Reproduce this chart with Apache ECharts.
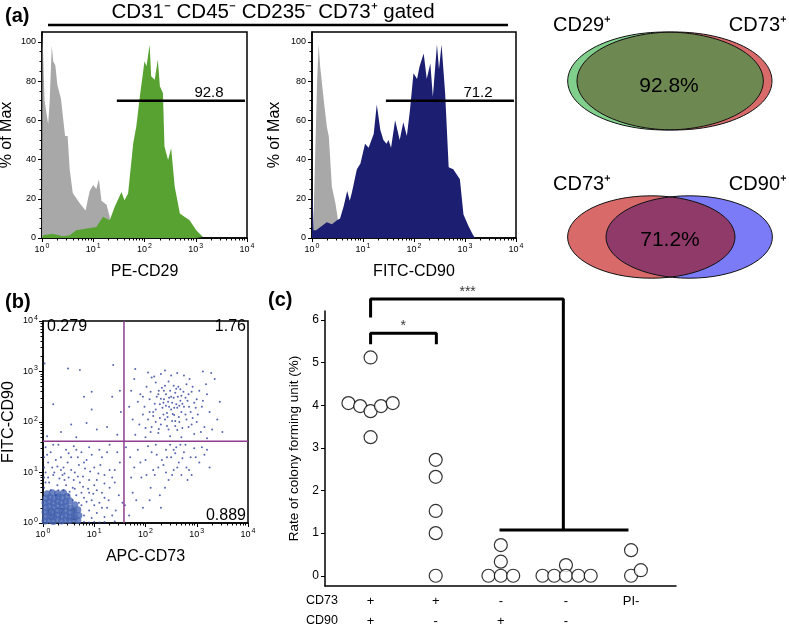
<!DOCTYPE html>
<html><head><meta charset="utf-8">
<script src="https://cdn.jsdelivr.net/npm/echarts@6/dist/echarts.min.js"></script>
<style>html,body{margin:0;padding:0;background:#fff}#c{width:789px;height:627px}</style>
</head><body><div id="c"></div><script>
// ---------------- DATA ----------------
const decadeLabels = [0,1,2,3,4];            // 10^0 .. 10^4
const histYTicks = [0,20,40,60,80,100];
// (a) histogram 1 : x in log10 decades, y in % of max
const cd29Control = [[0,0],[0.01,104],[0.05,70],[0.12,58],[0.15,70],[0.19,98],[0.22,90],[0.26,88],[0.3,78],[0.37,71],[0.45,52],[0.5,52],[0.54,35],[0.6,23],[0.73,18],[0.85,14],[0.93,24],[1.0,27],[1.06,25],[1.11,30],[1.16,19],[1.26,17],[1.32,11],[1.35,0]];
const cd29Stained = [[0,0],[0.02,1.4],[0.21,2.2],[0.41,0.9],[0.54,1.4],[0.67,3.9],[0.87,4.8],[1.06,5.6],[1.19,10.8],[1.32,9],[1.42,15.9],[1.55,23.5],[1.61,19.3],[1.68,22.7],[1.78,48.3],[1.84,56.8],[1.91,72.2],[2.0,90.1],[2.04,87.5],[2.1,98.6],[2.13,82.4],[2.2,80.7],[2.26,91],[2.3,77.3],[2.36,73.9],[2.39,46.6],[2.46,39.8],[2.52,45.7],[2.59,26.1],[2.69,12.5],[2.78,10.8],[2.88,9],[3.01,3.9],[3.14,0.5],[3.17,0]];
const cd29Gate = [[1.46,70],[3.96,70]];
const cd29GateLabel = '92.8';
// (a) histogram 2
const cd90Control = [[0.02,0],[0.06,40],[0.1,80],[0.13,98.6],[0.16,87.5],[0.23,70.5],[0.29,56.8],[0.33,51.7],[0.39,26.1],[0.46,17.6],[0.5,10.8],[0.55,0]];
const cd90Stained = [[0,0],[0.01,26],[0.03,4],[0.08,4],[0.29,8],[0.39,7],[0.49,9],[0.55,10],[0.62,16],[0.69,24],[0.74,19],[0.78,23],[0.88,35],[0.95,38],[1.04,48],[1.11,46],[1.21,53],[1.27,68],[1.34,55],[1.4,50],[1.46,48],[1.5,50],[1.55,46],[1.63,60],[1.72,50],[1.79,59],[1.86,52],[1.92,65],[1.99,84],[2.06,81],[2.11,87.5],[2.19,94],[2.25,81],[2.32,89],[2.37,72],[2.45,98.6],[2.49,86],[2.54,98.6],[2.61,74],[2.68,36],[2.77,35],[2.9,30],[2.97,12],[3.07,6],[3.16,1.4],[3.2,0]];
const cd90Gate = [[1.45,70],[3.96,70]];
const cd90GateLabel = '71.2';
// (b) dot plot, log10 decades [APC-CD73, FITC-CD90]
const dotsSparse = [
[1.80,3.05],[2.05,2.98],[2.17,2.90],[2.30,2.95],[2.38,3.02],[2.62,2.97],[2.75,2.92],[3.12,3.00],[3.28,2.97],[3.35,2.85],
[1.72,2.62],[1.90,2.55],[2.02,2.70],[2.20,2.78],[2.32,2.68],[2.45,2.80],[2.55,2.72],[2.68,2.65],[2.80,2.75],[2.92,2.70],[3.05,2.62],[3.20,2.55],
[1.85,2.40],[1.98,2.30],[2.08,2.45],[2.15,2.20],[2.22,2.50],[2.28,2.35],[2.35,2.15],[2.40,2.55],[2.44,2.40],[2.50,2.25],[2.55,2.48],[2.60,2.35],[2.65,2.10],[2.70,2.52],[2.75,2.30],[2.82,2.42],[2.88,2.20],[2.95,2.38],[3.02,2.15],[3.10,2.30],[3.25,2.20],[3.40,2.05],
[1.75,2.05],[1.88,1.95],[1.95,2.15],[2.05,2.05],[2.12,1.90],[2.20,2.00],[2.30,1.95],[2.38,2.05],[2.45,1.85],[2.52,2.02],[2.58,1.92],[2.66,2.00],[2.72,1.88],[2.80,2.05],[2.90,1.95],[3.00,2.00],[3.15,1.90],[3.30,1.85],
[1.80,1.75],[2.00,1.70],[2.25,1.78],[2.48,1.72],[2.70,1.70],[2.95,1.76],[3.20,1.68],
[2.33,2.28],[2.42,2.18],[2.48,2.62],[2.58,2.58],[2.62,2.28],[2.36,2.45],[2.52,2.38],[2.68,2.42],[2.26,2.62],[2.74,2.60],[2.84,2.55],[2.56,2.14],[2.18,2.36],[2.40,2.32],[2.60,2.66],
[2.10,2.60],[2.25,2.55],[2.38,2.72],[2.50,2.50],[2.63,2.50],[2.78,2.48],[2.90,2.60],[3.00,2.45],[2.15,2.12],[2.28,2.08],[2.43,2.10],[2.58,2.02],[2.70,2.20],[2.85,2.30],[2.98,2.28],[3.12,2.42],
[2.08,2.20],[2.20,2.25],[2.35,2.38],[2.46,2.30],[2.53,2.16],[2.66,2.32],[2.78,2.15],[2.92,2.08],[2.26,1.86],[2.42,1.92],[2.62,1.84],[2.84,1.90],[3.08,1.80],[2.10,1.80],[1.95,2.50],[2.12,2.88],
[2.50,2.92],[2.86,2.85],[3.18,2.75],[3.45,2.40],[3.50,1.80],[1.68,2.30],[1.78,2.85],[2.00,1.88],[2.36,2.62],[2.64,2.70],[2.72,2.36],[2.46,2.48],[2.30,2.46],[2.56,2.28],
[1.62,1.50],[1.70,1.30],[1.78,1.10],[1.85,1.45],[1.92,0.90],[2.00,1.25],[2.05,1.52],[2.10,0.70],[2.15,1.05],[2.22,1.35],[2.28,0.55],[2.35,1.15],[2.40,1.45],[2.45,0.85],[2.50,1.30],[2.55,1.05],[2.60,1.50],[2.65,1.20],[2.70,0.95],[2.75,1.40],[2.80,1.10],[2.88,1.30],[2.95,1.48],[3.05,1.20],[3.15,1.35],[3.25,1.10],[1.60,0.35],[1.75,0.60],[1.95,0.30],[2.30,0.30],[2.48,1.55],[2.58,1.38],[2.68,1.55],[2.32,1.25],[2.18,0.95],[1.68,0.15],[2.82,0.85],
[1.90,1.20],[2.02,0.95],[2.12,1.40],[2.25,1.10],[2.38,0.70],[2.42,1.30],[2.52,0.95],[2.62,1.10],[2.72,1.28],[2.85,1.05],[2.98,1.30],[3.10,1.50],[2.20,1.55],[2.55,1.45],[2.78,1.55],[1.72,0.90],[1.82,0.45],[2.08,0.45],[2.40,1.00],[2.90,0.95],[3.20,1.45],
[0.03,3.16],[0.49,3.06],[0.72,3.03],[1.37,3.13],[0.95,2.60],[1.50,2.62],[0.20,2.35],[0.80,2.50],[1.35,2.50],[0.35,1.80],[0.55,1.95],[0.85,1.98],[1.05,1.85],[1.25,1.90],[0.08,1.72],[1.45,1.75],[0.65,1.70],[1.52,2.20],[0.95,2.25],
[0.05,1.50],[0.15,1.40],[0.30,1.55],[0.45,1.45],[0.60,1.52],[0.75,1.40],[0.90,1.50],[1.10,1.45],[1.30,1.55],[1.45,1.40],
[0.10,1.20],[0.25,1.25],[0.40,1.10],[0.55,1.30],[0.70,1.15],[0.85,1.25],[1.00,1.10],[1.15,1.30],[1.30,1.05],[1.50,1.20],
[0.05,1.00],[0.20,0.95],[0.35,1.05],[0.50,0.90],[0.62,1.00],[0.78,0.92],[0.92,1.02],[1.05,0.85],[1.20,0.95],[1.40,0.80],
[0.12,0.80],[0.28,0.75],[0.42,0.85],[0.58,0.70],[0.72,0.80],[0.88,0.68],[1.00,0.75],[1.15,0.60],[1.30,0.70],[1.48,0.55],
[0.65,0.55],[0.80,0.50],[0.95,0.45],[1.10,0.40],[1.25,0.30],[0.90,0.25],[1.05,0.20],[1.35,0.15],[0.75,0.35],[1.55,0.40],
[0.18,1.10],[0.48,1.20],[0.68,1.30],[0.38,0.95],[0.82,1.08],[0.52,0.62],[0.30,0.65],[0.98,0.58],[1.20,0.50],[0.60,0.85],
[0.10,0.90],[0.22,1.00],[0.32,0.88],[0.45,0.75],[0.55,1.05],[0.68,0.92],[0.78,0.72],[0.90,0.85],[1.08,0.98],[1.20,0.78],[1.35,0.90],[0.25,0.55],[0.40,0.65],[0.50,0.55],[0.62,0.68],[0.75,0.60],[0.85,0.42],[1.00,0.35],[1.15,0.30],[1.28,0.45],[1.42,0.25],[0.80,0.15],[0.95,0.10],[1.20,0.12],
[0.08,1.35],[0.20,1.55],[0.35,1.30],[0.50,1.38],[0.65,1.45],[0.80,1.20],[0.95,1.35],[1.12,1.15],[1.25,1.40],[1.40,1.05],[0.15,0.65],[0.05,0.80],[0.58,0.45],[0.70,0.40],[0.90,0.60],[1.05,0.65],[0.42,0.98],[0.28,1.12],
[0.02,0.70],[0.02,0.90],[0.02,1.10],[0.02,1.30],
[0.80,0.02],[1.00,0.02],[1.20,0.02],[1.40,0.03],[1.10,0.01],[0.90,0.01]
];
const dotsCore = [
[0.04,0.04],[0.12,0.06],[0.20,0.03],[0.28,0.07],[0.36,0.04],[0.44,0.06],[0.52,0.05],[0.60,0.08],[0.68,0.05],
[0.05,0.13],[0.13,0.15],[0.21,0.12],[0.29,0.16],[0.37,0.13],[0.45,0.15],[0.53,0.12],[0.61,0.16],[0.70,0.15],
[0.04,0.22],[0.12,0.24],[0.20,0.21],[0.28,0.25],[0.36,0.22],[0.44,0.24],[0.52,0.21],[0.60,0.25],[0.68,0.26],
[0.05,0.31],[0.13,0.33],[0.21,0.30],[0.29,0.34],[0.37,0.31],[0.45,0.33],[0.53,0.30],[0.62,0.36],
[0.04,0.40],[0.12,0.42],[0.20,0.39],[0.28,0.43],[0.36,0.40],[0.44,0.42],[0.52,0.44],
[0.06,0.49],[0.14,0.51],[0.22,0.48],[0.30,0.52],[0.38,0.50],[0.47,0.53],
[0.08,0.58],[0.18,0.60],[0.28,0.58],[0.40,0.60]
];
const quadrantGate = [1.58, 1.62];
const quadrantLabels = ['0.279','1.76','97.1','0.889'];
// (c) colony forming unit rates (%)
const groupsCD73 = ['+','+','-','-','PI-'];
const groupsCD90 = ['+','-','+','-',''];
const cfuPosPos = [4.05,3.98,3.86,3.98,4.05,5.12,3.25];
const cfuPosNeg = [2.72,2.32,1.52,1.0,0];
const cfuNegPos = [0.72,0.33,0,0,0];
const cfuNegNeg = [0.25,0,0,0,0,0];
const cfuPI = [0.6,0,0.13];
const cfuYTicks = [0,1,2,3,4,5,6];
// ---------------- LAYOUT (jitter / annotation placement) ----------------
const jitter = [
  [-0.34,-0.16,0,0.16,0.34,0,0],
  [0,0,0,0,0],
  [0,0,-0.19,0,0.19],
  [0,-0.36,-0.18,0,0.19,0.38],
  [0,0,0.15]
];
const bracketAll = [[1,6.06],[1,6.49],[3.96,6.49],[3.96,1.075]];
const bracketAllBase = [[2.98,1.075],[4.96,1.075]];
const bracketOne = [[1,5.43],[1,5.69],[2.01,5.69],[2.01,5.43]];

const FONT = '"Liberation Sans", Arial, Helvetica, sans-serif';
const minorLogTicks = [];
for (let d = 0; d < 4; d++) for (let m = 2; m <= 9; m++) minorLogTicks.push(d + Math.log10(m));
const histMinorTicks = [];
for (let v = 5; v < 105; v += 5) if (v % 20) histMinorTicks.push(v);
const rich = { a: { fontSize: 9, color: '#000', fontFamily: FONT }, s: { fontSize: 7, color: '#000', fontFamily: FONT, padding: [0, 0, 6, 1] } };
const logLabel = v => '{a|10}{s|' + v + '}';

function logXAxis(gi, name, gap) {
  return { type: 'value', gridIndex: gi, position: 'bottom', min: 0, max: 4, interval: 1,
    name, nameLocation: 'middle', nameGap: gap, nameTextStyle: { fontSize: 16, color: '#000', fontFamily: FONT },
    axisLine: { show: true, onZero: false, lineStyle: { color: '#000', width: 1.5 } },
    axisTick: { show: true, length: 4, lineStyle: { color: '#000', width: 1 } },
    axisLabel: { formatter: logLabel, rich, margin: 5 }, splitLine: { show: false } };
}
function minorXAxis(gi) {
  return { type: 'value', gridIndex: gi, position: 'bottom', min: 0, max: 4,
    axisLine: { show: false }, axisLabel: { show: false }, splitLine: { show: false },
    axisTick: { show: true, length: 2.5, customValues: minorLogTicks, lineStyle: { color: '#000', width: 1 } } };
}
function minorYAxis(gi, max, ticks) {
  return { type: 'value', gridIndex: gi, position: 'left', min: 0, max,
    axisLine: { show: false }, axisLabel: { show: false }, splitLine: { show: false },
    axisTick: { show: true, length: 2.5, customValues: ticks, lineStyle: { color: '#000', width: 1 } } };
}
function histYAxis(gi, gap) {
  return { type: 'value', gridIndex: gi, position: 'left', min: 0, max: 105,
    name: '% of Max', nameLocation: 'middle', nameGap: gap, nameTextStyle: { fontSize: 16, color: '#000', fontFamily: FONT },
    axisLine: { show: true, lineStyle: { color: '#000', width: 1.5 } },
    axisTick: { show: true, length: 4, customValues: histYTicks, lineStyle: { color: '#000' } },
    axisLabel: { customValues: histYTicks, fontSize: 9, color: '#000', margin: 6, fontFamily: FONT }, splitLine: { show: false } };
}

// Venn helpers
function lens(a, b, n) {
  const pts = [];
  const inside = (e, x, y) => ((x - e.cx) / e.rx) ** 2 + ((y - e.cy) / e.ry) ** 2 <= 1;
  for (let i = 0; i < n; i++) {
    const t = 2 * Math.PI * i / n;
    let x = a.cx + a.rx * Math.cos(t), y = a.cy + a.ry * Math.sin(t);
    if (inside(b, x, y)) pts.push([x, y]);
    x = b.cx + b.rx * Math.cos(t); y = b.cy + b.ry * Math.sin(t);
    if (inside(a, x, y)) pts.push([x, y]);
  }
  let mx = 0, my = 0; pts.forEach(p => { mx += p[0]; my += p[1]; }); mx /= pts.length; my /= pts.length;
  pts.sort((p, q) => Math.atan2(p[1] - my, p[0] - mx) - Math.atan2(q[1] - my, q[0] - mx));
  return pts;
}
const vTopA = { cx: 665.5, cy: 81, rx: 97.8, ry: 49 };
const vTopB = { cx: 674.5, cy: 81, rx: 97.5, ry: 49 };
const vBotA = { cx: 651.3, cy: 237, rx: 83.7, ry: 41.2 };
const vBotB = { cx: 689.2, cy: 237, rx: 83.2, ry: 41.2 };
function venn(a, b, ca, cb, cab) {
  return [
    { type: 'ellipse', shape: a, style: { fill: ca, stroke: null } },
    { type: 'ellipse', shape: b, style: { fill: cb, stroke: null } },
    { type: 'polygon', shape: { points: lens(a, b, 720) }, style: { fill: cab, stroke: null } },
    { type: 'ellipse', shape: a, style: { fill: null, stroke: '#111', lineWidth: 1 } },
    { type: 'ellipse', shape: b, style: { fill: null, stroke: '#111', lineWidth: 1 } }
  ];
}
function txt(x, y, text, size, align, weight) {
  return { type: 'text', x, y, style: { text, fontSize: size, fontWeight: weight || 'normal', fontFamily: FONT, fill: '#000', align: align || 'left', verticalAlign: 'middle' } };
}

const cfuGroups = [cfuPosPos, cfuPosNeg, cfuNegPos, cfuNegNeg, cfuPI];
const cfuPoints = [];
cfuGroups.forEach((vals, gi) => vals.forEach((v, k) => cfuPoints.push([gi + 1 + jitter[gi][k], v])));

const lineStyleBlack = { color: '#000', width: 3 };
const gridBase = { outerBoundsMode: 'none', containLabel: false };
const option = {
  animation: false,
  textStyle: { fontFamily: FONT },
  grid: [
    Object.assign({ left: 42, top: 32, width: 205, height: 206, show: true, borderColor: '#000', borderWidth: 1.5 }, gridBase),
    Object.assign({ left: 312, top: 32, width: 204, height: 206, show: true, borderColor: '#000', borderWidth: 1.5 }, gridBase),
    Object.assign({ left: 43, top: 321, width: 205, height: 202, show: true, borderColor: '#000', borderWidth: 1.5 }, gridBase),
    Object.assign({ left: 325, top: 311, width: 351, height: 275 }, gridBase)
  ],
  xAxis: [
    logXAxis(0, 'PE-CD29', 26), minorXAxis(0),
    logXAxis(1, 'FITC-CD90', 26), minorXAxis(1),
    logXAxis(2, 'APC-CD73', 26), minorXAxis(2),
    { type: 'value', gridIndex: 3, position: 'bottom', min: 0.3, max: 5.69,
      axisLine: { show: true, onZero: false, lineStyle: { color: '#000', width: 1.5 } },
      axisTick: { show: false }, splitLine: { show: false },
      axisLabel: { customValues: [1, 2, 3, 4, 5], fontSize: 13, lineHeight: 20, color: '#000', margin: 5,
        formatter: v => groupsCD73[v - 1] + '\n' + (groupsCD90[v - 1] || ' ') } }
  ],
  yAxis: [
    histYAxis(0, 27), histYAxis(1, 29),
    { type: 'value', gridIndex: 2, position: 'left', min: 0, max: 4, interval: 1,
      name: 'FITC-CD90', nameLocation: 'middle', nameGap: 26, nameTextStyle: { fontSize: 16, color: '#000', fontFamily: FONT },
      axisLine: { show: true, lineStyle: { color: '#000', width: 1.5 } },
      axisTick: { show: true, length: 4, lineStyle: { color: '#000' } },
      axisLabel: { formatter: logLabel, rich, margin: 5 }, splitLine: { show: false } },
    minorYAxis(2, 4, minorLogTicks),
    { type: 'value', gridIndex: 3, position: 'left', min: -0.24, max: 6.21,
      name: 'Rate of colony forming unit (%)', nameLocation: 'middle', nameGap: 24,
      nameTextStyle: { fontSize: 13.5, color: '#000', fontFamily: FONT },
      axisLine: { show: true, onZero: false, lineStyle: { color: '#000', width: 1.5 } },
      axisTick: { show: true, length: 4, customValues: cfuYTicks, lineStyle: { color: '#000' } },
      axisLabel: { customValues: cfuYTicks, fontSize: 12, color: '#000', margin: 6 }, splitLine: { show: false } },
    minorYAxis(0, 105, histMinorTicks),
    minorYAxis(1, 105, histMinorTicks)
  ],
  series: [
    { type: 'line', xAxisIndex: 0, yAxisIndex: 0, data: cd29Control, symbol: 'none', lineStyle: { width: 0 }, areaStyle: { color: '#a8a8a8', opacity: 1 } },
    { type: 'line', xAxisIndex: 0, yAxisIndex: 0, data: cd29Stained, symbol: 'none', lineStyle: { width: 0 }, areaStyle: { color: '#58a232', opacity: 1 } },
    { type: 'line', xAxisIndex: 0, yAxisIndex: 0, data: cd29Gate, symbol: 'none', lineStyle: { color: '#000', width: 2.5 } },
    { type: 'line', xAxisIndex: 2, yAxisIndex: 1, data: cd90Control, symbol: 'none', lineStyle: { width: 0 }, areaStyle: { color: '#a8a8a8', opacity: 1 } },
    { type: 'line', xAxisIndex: 2, yAxisIndex: 1, data: cd90Stained, symbol: 'none', lineStyle: { width: 0 }, areaStyle: { color: '#1c1e72', opacity: 1 } },
    { type: 'line', xAxisIndex: 2, yAxisIndex: 1, data: cd90Gate, symbol: 'none', lineStyle: { color: '#000', width: 2.5 } },
    { type: 'scatter', xAxisIndex: 4, yAxisIndex: 2, data: dotsCore, symbolSize: 7, itemStyle: { color: '#4867b3' } },
    { type: 'scatter', xAxisIndex: 4, yAxisIndex: 2, data: dotsSparse, symbolSize: 2, itemStyle: { color: '#2e3f9c' } },
    { type: 'line', xAxisIndex: 4, yAxisIndex: 2, data: [[quadrantGate[0], 0], [quadrantGate[0], 4]], symbol: 'none', lineStyle: { color: '#8e3d8e', width: 1.5 } },
    { type: 'line', xAxisIndex: 4, yAxisIndex: 2, data: [[0, quadrantGate[1]], [4, quadrantGate[1]]], symbol: 'none', lineStyle: { color: '#8e3d8e', width: 1.5 } },
    { type: 'line', xAxisIndex: 6, yAxisIndex: 4, data: bracketAll, symbol: 'none', clip: false, lineStyle: lineStyleBlack },
    { type: 'line', xAxisIndex: 6, yAxisIndex: 4, data: bracketAllBase, symbol: 'none', clip: false, lineStyle: lineStyleBlack },
    { type: 'line', xAxisIndex: 6, yAxisIndex: 4, data: bracketOne, symbol: 'none', clip: false, lineStyle: lineStyleBlack },
    { type: 'scatter', xAxisIndex: 6, yAxisIndex: 4, data: [[2.49, 6.49]], symbolSize: 0, clip: false,
      label: { show: true, formatter: '***', position: 'top', distance: 0, fontSize: 14, color: '#000' } },
    { type: 'scatter', xAxisIndex: 6, yAxisIndex: 4, data: [[1.5, 5.69]], symbolSize: 0, clip: false,
      label: { show: true, formatter: '*', position: 'top', distance: 0, fontSize: 14, color: '#000' } },
    { type: 'scatter', xAxisIndex: 6, yAxisIndex: 4, data: cfuPoints, symbol: 'circle', symbolSize: 13, clip: false,
      itemStyle: { color: '#fff', borderColor: '#000', borderWidth: 1.2 }, z: 5 }
  ],
  graphic: [
    txt(5, 16, '(a)', 20, 'left', 'bold'),
    txt(5, 302, '(b)', 20, 'left', 'bold'),
    txt(268, 300, '(c)', 20, 'left', 'bold'),
    txt(273, 12, 'CD31⁻ CD45⁻ CD235⁻ CD73⁺ gated', 20.5, 'center'),
    { type: 'line', shape: { x1: 48, y1: 25, x2: 508, y2: 25 }, style: { stroke: '#000', lineWidth: 2.5 } },
    txt(209, 93, cd29GateLabel, 15, 'center'),
    txt(478, 93, cd90GateLabel, 15, 'center'),
    txt(47, 327, quadrantLabels[0], 16, 'left'),
    txt(246, 327, quadrantLabels[1], 16, 'right'),
    txt(47, 516, quadrantLabels[2], 16, 'left'),
    txt(246, 516, quadrantLabels[3], 16, 'right'),
    txt(306, 601, 'CD73', 12.5, 'left'),
    txt(306, 621, 'CD90', 12.5, 'left'),
    ...venn(vTopA, vTopB, '#80cf8c', '#d86a6a', '#6e8852'),
    ...venn(vBotA, vBotB, '#d86a6a', '#7b7bf8', '#8f3a69'),
    txt(669, 86, '92.8%', 21, 'center'),
    txt(670, 240, '71.2%', 21, 'center'),
    txt(553, 25, 'CD29⁺', 20, 'left'),
    txt(787, 25, 'CD73⁺', 20, 'right'),
    txt(553, 184, 'CD73⁺', 20, 'left'),
    txt(787, 184, 'CD90⁺', 20, 'right')
  ]
};
const chart = echarts.init(document.getElementById('c'));
chart.setOption(option);
</script></body></html>
